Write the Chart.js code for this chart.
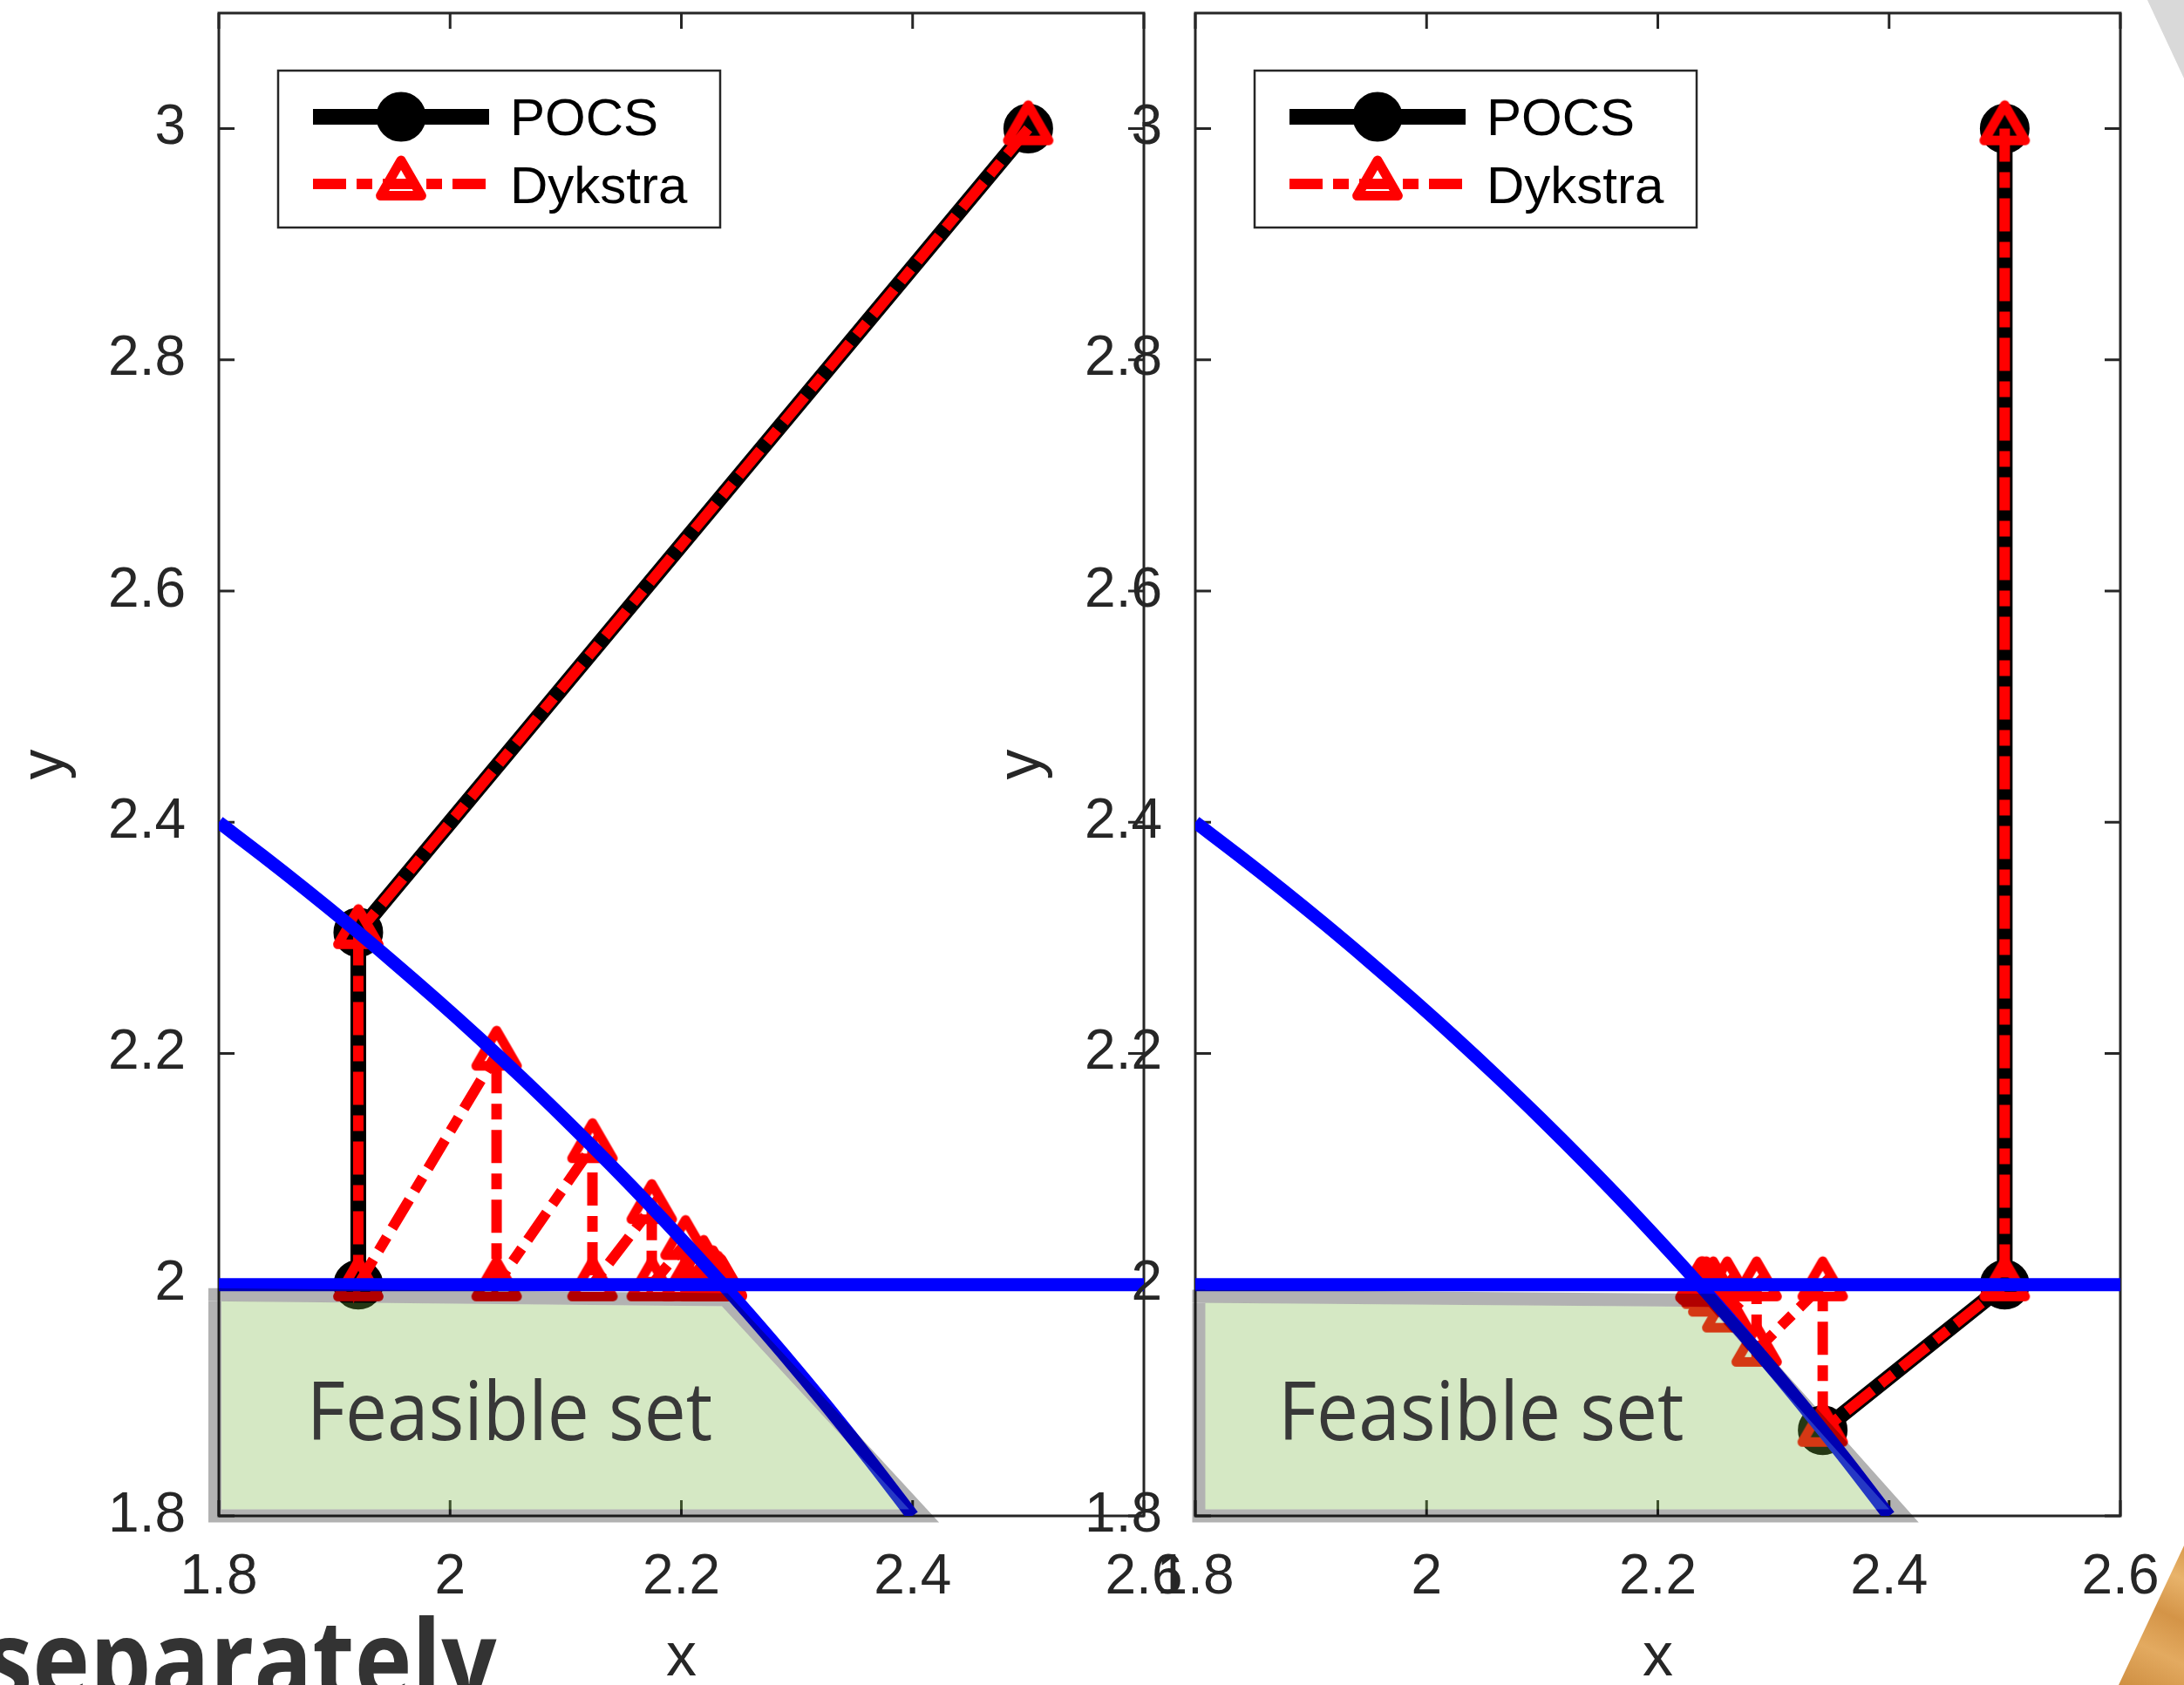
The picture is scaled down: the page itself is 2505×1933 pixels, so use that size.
<!DOCTYPE html>
<html>
<head>
<meta charset="utf-8">
<title>POCS vs Dykstra</title>
<script src="https://cdn.jsdelivr.net/npm/chart.js@4.4.1/dist/chart.umd.min.js"></script>
<style>
  html, body { margin: 0; padding: 0; background: #fff; overflow: hidden; }
  body { width: 2505px; height: 1933px; position: relative; }
  canvas { position: absolute; top: 0; }
  #leftChart { left: 0; }
  #rightChart { left: 1120px; }
</style>
</head>
<body>
<canvas id="leftChart" width="1400" height="1933"></canvas>
<canvas id="rightChart" width="1385" height="1933"></canvas>
<script>
///////////////////////////////////////// data
var xTicks = [1.8, 2, 2.2, 2.4, 2.6];
var xTickLabels = ['1.8', '2', '2.2', '2.4', '2.6'];
var yTicks = [1.8, 2, 2.2, 2.4, 2.6, 2.8, 3];
var yTickLabels = ['1.8', '2', '2.2', '2.4', '2.6', '2.8', '3'];
var seriesNames = ['POCS', 'Dykstra'];

// constraint sets: the circle arc and the line y = 2
var arcX = [1.8, 1.8375, 1.875, 1.9125, 1.95, 1.9875, 2.025, 2.0625, 2.1,
            2.1375, 2.175, 2.2125, 2.25, 2.2875, 2.325, 2.3625, 2.4];
var arcY = [2.4, 2.3714, 2.3419, 2.3114, 2.2798, 2.2472, 2.2135, 2.1786, 2.1424,
            2.1050, 2.0663, 2.0260, 1.9843, 1.9410, 1.8959, 1.8489, 1.8];
var lineX = [1.8, 2.6];
var lineY = [2, 2];

// left panel (circle projected first)
var pocsLeftX = [2.5, 1.9206, 1.9206];
var pocsLeftY = [3, 2.3047, 2];
var dykLeftX = [2.5, 1.9206, 1.9206, 2.0402, 2.0402, 2.1231, 2.1231, 2.1744, 2.1744, 2.2036, 2.2036,
                2.2193, 2.2193, 2.2275, 2.2275, 2.2318, 2.2318, 2.2339, 2.2339, 2.2350, 2.2350];
var dykLeftY = [3, 2.3047, 2, 2.1995, 2, 2.1195, 2, 2.0668, 2, 2.0357, 2,
                2.0185, 2, 2.0095, 2, 2.0048, 2, 2.0024, 2, 2.0012, 2];

// right panel (line projected first)
var pocsRightX = [2.5, 2.5, 2.3426];
var pocsRightY = [3, 2, 1.8741];
var dykRightX = [2.5, 2.5, 2.3426, 2.3426, 2.2854, 2.2854, 2.2600, 2.2600, 2.2479, 2.2479,
                 2.2420, 2.2420, 2.2390, 2.2390, 2.2376, 2.2376, 2.2368];
var dykRightY = [3, 2, 1.8741, 2, 1.9434, 2, 1.9730, 2, 1.9867, 2,
                 1.9934, 2, 1.9967, 2, 1.9983, 2, 1.9992];

// "Feasible set" shape pasted over each plot (outline and fill)
var feasLeftX = [1.7966, 2.2375, 2.41, 1.7966, 1.7966];
var feasLeftY = [1.9913, 1.987, 1.8, 1.8, 1.9913];
var fillLeftX = [1.8022, 2.2352, 2.3971, 1.8022];
var fillLeftY = [1.9856, 1.9814, 1.8057, 1.8057];
var feasRightX = [1.803, 2.2467, 2.413, 1.803, 1.803];
var feasRightY = [1.990, 1.9865, 1.8, 1.8, 1.990];
var fillRightX = [1.8086, 2.2441, 2.4004, 1.8086];
var fillRightY = [1.9843, 1.9808, 1.8057, 1.8057];

///////////////////////////////////////// styles
var axisColor = '#262626';
var mFont = '"Liberation Sans", Arial, Helvetica, sans-serif';
var sFont = '"Open Sans", "Noto Sans", sans-serif';
var dashDot = [38, 12, 18, 12];

// open red triangle marker with round corners (like matlab '^')
function makeTriangle() {
    var c = document.createElement('canvas');
    c.width = 80; c.height = 80;
    var g = c.getContext('2d');
    var r = 27, cx = 40, cy = 40;
    g.beginPath();
    g.moveTo(cx, cy - r);
    g.lineTo(cx + r * 0.866, cy + r / 2);
    g.lineTo(cx - r * 0.866, cy + r / 2);
    g.closePath();
    g.lineJoin = 'round';
    g.lineWidth = 11;
    g.strokeStyle = '#ff0000';
    g.stroke();
    return c;
}
var triangle = makeTriangle();

function pts(xs, ys) {
    return xs.map(function (v, i) { return { x: v, y: ys[i] }; });
}

///////////////////////////////////////// per-panel drawing (box, ticks, legend, slide text)
function panelPlugin(panel) {
    return {
        id: 'panel_' + panel.id,
        beforeDraw: function (chart) {
            if (!panel.decor) return;
            var ctx = chart.ctx;
            ctx.save();
            ctx.fillStyle = '#d9d9d9';
            ctx.beginPath();
            ctx.moveTo(1343, 0); ctx.lineTo(1385, 0); ctx.lineTo(1385, 90);
            ctx.closePath(); ctx.fill();
            var gr = ctx.createLinearGradient(1310, 1933, 1385, 1773);
            gr.addColorStop(0, '#cf8f42');
            gr.addColorStop(0.3, '#e3aa60');
            gr.addColorStop(0.55, '#d49447');
            gr.addColorStop(0.8, '#e8b36b');
            gr.addColorStop(1, '#d89a4c');
            ctx.fillStyle = gr;
            ctx.beginPath();
            ctx.moveTo(1385, 1773); ctx.lineTo(1310, 1933); ctx.lineTo(1385, 1933);
            ctx.closePath(); ctx.fill();
            ctx.restore();
        },
        beforeDatasetsDraw: function (chart) {
            var ctx = chart.ctx, a = chart.chartArea;
            var xs = chart.scales.x, ys = chart.scales.y;
            ctx.save();
            ctx.strokeStyle = axisColor;
            ctx.lineWidth = 3;
            ctx.strokeRect(a.left, a.top, a.right - a.left, a.bottom - a.top);
            ctx.beginPath();
            xTicks.forEach(function (v) {
                var px = xs.getPixelForValue(v);
                ctx.moveTo(px, a.bottom); ctx.lineTo(px, a.bottom - 18);
                ctx.moveTo(px, a.top); ctx.lineTo(px, a.top + 18);
            });
            yTicks.forEach(function (v) {
                var py = ys.getPixelForValue(v);
                ctx.moveTo(a.left, py); ctx.lineTo(a.left + 18, py);
                ctx.moveTo(a.right, py); ctx.lineTo(a.right - 18, py);
            });
            ctx.stroke();
            ctx.restore();
        },
        afterDraw: function (chart) {
            var ctx = chart.ctx, a = chart.chartArea;
            var xs = chart.scales.x, ys = chart.scales.y;
            ctx.save();

            // "Feasible set" label
            ctx.fillStyle = '#383838';
            ctx.font = '94px ' + sFont;
            ctx.textBaseline = 'alphabetic';
            ctx.textAlign = 'left';
            ctx.save();
            ctx.translate(xs.getPixelForValue(panel.labelAt[0]), ys.getPixelForValue(panel.labelAt[1]));
            ctx.scale(0.91, 1);
            ctx.fillText('Feasible set', 0, 0);
            ctx.restore();

            // legend
            var bx = a.left + 68, by = a.top + 66;
            ctx.fillStyle = '#fff';
            ctx.fillRect(bx, by, 507, 180);
            ctx.strokeStyle = axisColor;
            ctx.lineWidth = 2.5;
            ctx.strokeRect(bx, by, 507, 180);
            var x0 = a.left + 108, x1 = a.left + 310, xm = (x0 + x1) / 2;
            var r0 = a.top + 119, r1 = a.top + 196;
            ctx.beginPath();
            ctx.strokeStyle = '#000';
            ctx.lineWidth = 18;
            ctx.moveTo(x0, r0); ctx.lineTo(x1, r0);
            ctx.stroke();
            ctx.beginPath();
            ctx.arc(xm, r0, 26, 0, 2 * Math.PI);
            ctx.fillStyle = '#000';
            ctx.fill();
            ctx.lineWidth = 5;
            ctx.stroke();
            ctx.beginPath();
            ctx.setLineDash(dashDot);
            ctx.strokeStyle = '#ff0000';
            ctx.lineWidth = 12;
            ctx.moveTo(x0, r1); ctx.lineTo(x1, r1);
            ctx.stroke();
            ctx.setLineDash([]);
            ctx.drawImage(triangle, xm - triangle.width / 2, r1 - triangle.height / 2);
            ctx.fillStyle = '#000';
            ctx.font = '60px ' + mFont;
            ctx.fillText(seriesNames[0], a.left + 334, a.top + 140);
            ctx.fillText(seriesNames[1], a.left + 334, a.top + 218);

            // slide title fragment under the left plot
            if (panel.caption) {
                ctx.fillStyle = '#333333';
                ctx.font = 'bold 127px ' + sFont;
                ctx.translate(-18, 1950);
                ctx.scale(0.876, 1);
                ctx.fillText(panel.caption, 0, 0);
            }
            ctx.restore();
        }
    };
}

function makeChart(canvasId, panel) {
    var xTickFont = { family: mFont, size: 64 };
    var yTickFont = { family: mFont, size: 64, lineHeight: 0.4 };
    var titleFont = { family: mFont, size: 70, lineHeight: 0.8 };
    return new Chart(document.getElementById(canvasId), {
        type: 'scatter',
        data: {
            datasets: [
                { // slide shape outline
                    data: pts(panel.feasX, panel.feasY), showLine: true,
                    borderColor: 'rgba(0,0,0,0.3)', borderWidth: 15,
                    borderCapStyle: 'square', borderJoinStyle: 'miter',
                    pointRadius: 0, clip: false, order: 1
                },
                { // slide shape fill
                    data: pts(panel.fillX, panel.fillY), showLine: true,
                    fill: 'shape', backgroundColor: 'rgba(119,181,65,0.31)',
                    borderColor: 'rgba(0,0,0,0)', borderWidth: 1,
                    pointRadius: 0, clip: false, order: 2
                },
                {
                    data: pts(lineX, lineY), showLine: true,
                    borderColor: '#0000ff', borderWidth: 15, pointRadius: 0, order: 3
                },
                {
                    data: pts(arcX, arcY), showLine: true, cubicInterpolationMode: 'monotone',
                    borderColor: '#0000ff', borderWidth: 15, pointRadius: 0, order: 4
                },
                {
                    label: seriesNames[1],
                    data: pts(panel.dykX, panel.dykY), showLine: true,
                    borderColor: '#ff0000', borderWidth: 12, borderDash: dashDot,
                    pointStyle: triangle, pointRadius: 27, order: 5
                },
                {
                    label: seriesNames[0],
                    data: pts(panel.pocsX, panel.pocsY), showLine: true,
                    borderColor: '#000', borderWidth: 18, borderJoinStyle: 'round',
                    pointStyle: 'circle', pointRadius: 26, pointBorderWidth: 5,
                    pointBackgroundColor: '#000', pointBorderColor: '#000', order: 6
                }
            ]
        },
        options: {
            responsive: false,
            animation: false,
            devicePixelRatio: 1,
            events: [],
            layout: { autoPadding: false, padding: { left: 0, top: 15, right: panel.padRight, bottom: 0 } },
            plugins: {
                legend: { display: false },
                tooltip: { enabled: false }
            },
            scales: {
                x: {
                    type: 'linear', min: 1.8, max: 2.6,
                    grid: { display: false, drawTicks: false },
                    border: { display: false },
                    afterBuildTicks: function (s) { s.ticks = xTicks.map(function (v) { return { value: v }; }); },
                    afterFit: function (s) { s.height = 194; s.paddingLeft = 0; s.paddingRight = 0; },
                    ticks: {
                        autoSkip: false, maxRotation: 0, padding: 33, color: axisColor, font: xTickFont,
                        callback: function (v, i) { return xTickLabels[i]; }
                    },
                    title: { display: true, text: 'x', color: axisColor, font: titleFont, padding: { top: 0, bottom: 2 } }
                },
                y: {
                    type: 'linear', min: 1.8, max: 3.1,
                    grid: { display: false, drawTicks: false },
                    border: { display: false },
                    afterBuildTicks: function (s) { s.ticks = yTicks.map(function (v) { return { value: v }; }); },
                    afterFit: function (s) { s.width = 251; s.paddingTop = 0; s.paddingBottom = 0; },
                    ticks: {
                        autoSkip: false, padding: 38, color: axisColor, font: yTickFont,
                        callback: function (v, i) { return yTickLabels[i]; }
                    },
                    title: { display: true, text: 'y', color: axisColor, font: titleFont, padding: { top: 25, bottom: 0 } }
                }
            }
        },
        plugins: [panelPlugin(panel)]
    });
}

makeChart('leftChart', {
    id: 'left', padRight: 88,
    pocsX: pocsLeftX, pocsY: pocsLeftY, dykX: dykLeftX, dykY: dykLeftY,
    feasX: feasLeftX, feasY: feasLeftY, fillX: fillLeftX, fillY: fillLeftY,
    labelAt: [1.876, 1.8657], caption: 'separately'
});

makeChart('rightChart', {
    id: 'right', padRight: 73, decor: true,
    pocsX: pocsRightX, pocsY: pocsRightY, dykX: dykRightX, dykY: dykRightY,
    feasX: feasRightX, feasY: feasRightY, fillX: fillRightX, fillY: fillRightY,
    labelAt: [1.8716, 1.8657]
});
</script>
</body>
</html>
